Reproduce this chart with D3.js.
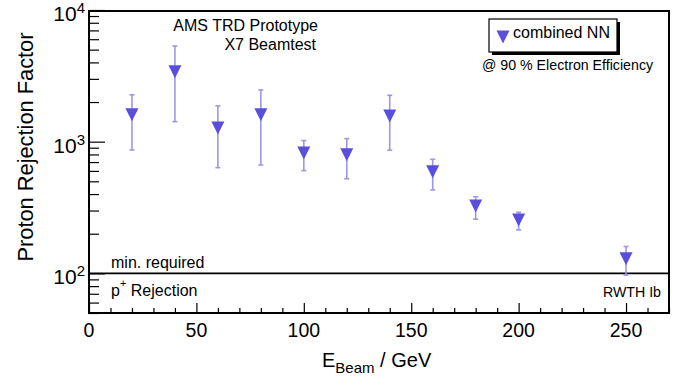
<!DOCTYPE html>
<html>
<head>
<meta charset="utf-8">
<script src="https://cdn.jsdelivr.net/npm/d3@7"></script>
<style>
  body { margin: 0; background: #fff; }
  text { font-family: "Liberation Sans", Arial, sans-serif; fill: #000; }
</style>
</head>
<body>
<div id="chart"></div>
<script>
// beam energies (GeV) and rejection factors
const energies = [20, 40, 60, 80, 100, 120, 140, 160, 180, 200, 250];
const rejection = [1600, 3400, 1270, 1600, 820, 795, 1570, 590, 325, 254, 129];
const errHigh = [2270, 5330, 1870, 2470, 1020, 1055, 2250, 735, 382, 291, 160];
const errLow = [865, 1420, 635, 665, 603, 523, 861, 430, 258, 214, 97];
const xMajorTicks = [0, 50, 100, 150, 200, 250];
const yDecades = [100, 1000, 10000];
const minRequired = 100;

const W = 681, H = 378;
const margin = { top: 10, right: 12, bottom: 65, left: 89 };
const innerW = W - margin.left - margin.right;
const innerH = H - margin.top - margin.bottom;
const markerColor = '#5a4fdc';
const errColor = '#9c96ec';

const svg = d3.select('#chart').append('svg')
    .attr('width', W)
    .attr('height', H);

const x = d3.scaleLinear().domain([0, 270]).range([0, innerW]);
const y = d3.scaleLog().domain([50, 10000]).range([innerH, 0]);

const g = svg.append('g')
    .attr('transform', `translate(${margin.left},${margin.top})`);

// minor x ticks every 10
const xMinor = d3.range(0, 271, 10).filter(v => v % 50 !== 0);
g.append('g')
    .attr('transform', `translate(0,${innerH})`)
    .call(d3.axisTop(x).tickValues(xMinor).tickSize(5).tickFormat(''))
    .call(a => a.select('.domain').remove())
    .selectAll('line').attr('stroke', '#000').attr('stroke-width', 1.2);

g.append('g')
    .attr('transform', `translate(0,${innerH})`)
    .call(d3.axisTop(x).tickValues(xMajorTicks).tickSize(10).tickFormat(''))
    .call(a => a.select('.domain').remove())
    .selectAll('line').attr('stroke', '#000').attr('stroke-width', 1.2);

g.selectAll('.xlab')
    .data(xMajorTicks)
    .enter()
    .append('text')
    .attr('x', d => x(d))
    .attr('y', innerH + 24)
    .attr('text-anchor', 'middle')
    .attr('font-size', '19.5px')
    .text(d => d);

// y minor ticks 2..9 per decade
let yMinor = [];
[10, 100, 1000].forEach(dec => {
    for (let k = 2; k <= 9; k++) {
        let v = k * dec;
        if (v >= 50 && v <= 10000) yMinor.push(v);
    }
});
g.append('g')
    .call(d3.axisRight(y).tickValues(yMinor).tickSize(10).tickFormat(''))
    .call(a => a.select('.domain').remove())
    .selectAll('line').attr('stroke', '#000').attr('stroke-width', 1.2);

g.append('g')
    .call(d3.axisRight(y).tickValues(yDecades).tickSize(16).tickFormat(''))
    .call(a => a.select('.domain').remove())
    .selectAll('line').attr('stroke', '#000').attr('stroke-width', 1.2);

const ylab = g.selectAll('.ylab')
    .data(yDecades)
    .enter()
    .append('text')
    .attr('x', -4)
    .attr('y', d => y(d) + 11)
    .attr('text-anchor', 'end')
    .attr('font-size', '21px');
ylab.append('tspan').text('10');
ylab.append('tspan')
    .attr('dy', -8)
    .attr('font-size', '15px')
    .text(d => Math.round(Math.log10(d)));

// minimum required line
g.append('line')
    .attr('x1', 0)
    .attr('x2', innerW)
    .attr('y1', y(minRequired))
    .attr('y2', y(minRequired))
    .attr('stroke', '#000')
    .attr('stroke-width', 1.6);

g.append('text')
    .attr('x', 22)
    .attr('y', y(minRequired) - 5)
    .attr('font-size', '16px')
    .text('min. required');

const pRej = g.append('text')
    .attr('x', 22)
    .attr('y', y(minRequired) + 23)
    .attr('font-size', '16px');
pRej.append('tspan').text('p');
pRej.append('tspan').attr('dy', -9).attr('font-size', '11px').text('+');
pRej.append('tspan').attr('dy', 9).text(' Rejection');

g.append('text')
    .attr('x', innerW - 8)
    .attr('y', y(minRequired) + 24)
    .attr('text-anchor', 'end')
    .attr('font-size', '14.2px')
    .text('RWTH Ib');

// error bars
const pts = energies.map((e, i) => ({ e: e, v: rejection[i], hi: errHigh[i], lo: errLow[i] }));

const eb = g.selectAll('.err')
    .data(pts)
    .enter()
    .append('g')
    .attr('class', 'err')
    .attr('stroke', errColor)
    .attr('stroke-width', 1.6);
eb.append('line')
    .attr('x1', d => x(d.e)).attr('x2', d => x(d.e))
    .attr('y1', d => y(d.hi)).attr('y2', d => y(d.lo));
eb.append('line')
    .attr('x1', d => x(d.e) - 2.5).attr('x2', d => x(d.e) + 2.5)
    .attr('y1', d => y(d.hi)).attr('y2', d => y(d.hi));
eb.append('line')
    .attr('x1', d => x(d.e) - 2.5).attr('x2', d => x(d.e) + 2.5)
    .attr('y1', d => y(d.lo)).attr('y2', d => y(d.lo));

// down triangles
const tri = 'M-6.5,-6.5L6.5,-6.5L0,6.5Z';
g.selectAll('.mk')
    .data(pts)
    .enter()
    .append('path')
    .attr('class', 'mk')
    .attr('transform', d => `translate(${x(d.e)},${y(d.v)})`)
    .attr('d', tri)
    .attr('fill', markerColor);

// frame
g.append('rect')
    .attr('x', 0).attr('y', 1)
    .attr('width', innerW).attr('height', innerH - 1)
    .attr('fill', 'none')
    .attr('stroke', '#000')
    .attr('stroke-width', 2);

// titles
g.append('text')
    .attr('x', 229).attr('y', 21)
    .attr('text-anchor', 'end')
    .attr('font-size', '16px')
    .text('AMS TRD Prototype');
g.append('text')
    .attr('x', 227).attr('y', 40)
    .attr('text-anchor', 'end')
    .attr('font-size', '16px')
    .text('X7 Beamtest');

// legend
const lg = g.append('g').attr('transform', `translate(${489 - margin.left},${19 - margin.top})`);
lg.append('rect')
    .attr('x', 3).attr('y', 3)
    .attr('width', 128).attr('height', 33)
    .attr('fill', '#000');
lg.append('rect')
    .attr('x', 0).attr('y', 0)
    .attr('width', 128).attr('height', 33)
    .attr('fill', '#fff')
    .attr('stroke', '#000')
    .attr('stroke-width', 1.2);
lg.append('path')
    .attr('transform', 'translate(14,18)')
    .attr('d', tri)
    .attr('fill', markerColor);
lg.append('text')
    .attr('x', 24).attr('y', 19)
    .attr('font-size', '16px')
    .text('combined NN');

g.append('text')
    .attr('x', 482 - margin.left).attr('y', 60)
    .attr('font-size', '14.2px')
    .text('@ 90 % Electron Efficiency');

// axis titles
const xt = svg.append('text')
    .attr('x', 322)
    .attr('y', 367)
    .attr('font-size', '20px');
xt.append('tspan').text('E');
xt.append('tspan').attr('dy', 6).attr('font-size', '15px').text('Beam');
xt.append('tspan').attr('dy', -6).text(' / GeV');

svg.append('text')
    .attr('transform', 'translate(33,147) rotate(-90)')
    .attr('text-anchor', 'middle')
    .attr('font-size', '21.8px')
    .text('Proton Rejection Factor');
</script>
</body>
</html>
